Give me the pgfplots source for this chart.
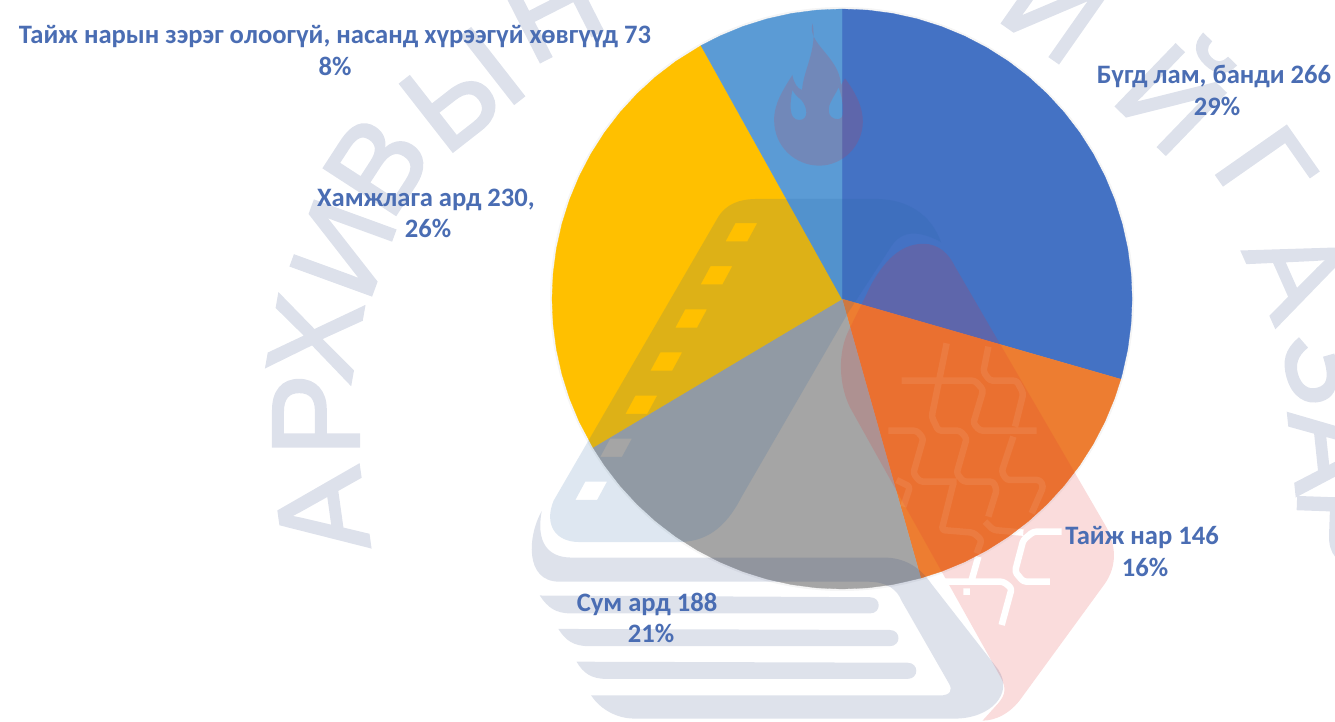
\documentclass[border=0pt]{standalone}
\usepackage{fontspec}
\setmainfont{Carlito}
\newfontfamily\wmfont[FakeBold=2.2]{Liberation Sans}
\usepackage{pgfplots}
\pgfplotsset{compat=1.18}
\definecolor{cBlue}{HTML}{4472C4}
\definecolor{cOrange}{HTML}{ED7D31}
\definecolor{cGray}{HTML}{A5A5A5}
\definecolor{cYellow}{HTML}{FFC000}
\definecolor{cSky}{HTML}{5B9BD5}
\definecolor{cText}{HTML}{4A6DB3}
\definecolor{wmNavy}{HTML}{1F3A7A}
\definecolor{wmPale}{HTML}{DDE1EB}
\definecolor{wmBlue}{HTML}{1F5FA0}
\definecolor{wmRed}{HTML}{E03030}
\newcommand{\wmL}[3]{\node[rotate=#3,text=wmPale,inner sep=0pt] at (#1) {\wmfont\fontsize{124}{124}\selectfont #2};}
\newcommand{\wmLetters}{%
  \begin{scope}[shift={(0pt,721pt)},x=1pt,y=-1pt]
    \wmL{322,512}{А}{98}
    \wmL{316,415}{Р}{90}
    \wmL{315,338}{Х}{80}
    \wmL{343,248}{И}{70}
    \wmL{377,165}{В}{57}
    \wmL{462,90}{Ы}{38}
    \wmL{552,8}{Н}{27}
    \wmL{1055,8}{И}{-35}
    \wmL{1180,90}{Й}{-44}
    \wmL{1265,170}{Г}{-55}
    \wmL{1298,272}{А}{-66}
    \wmL{1330,365}{З}{-74}
    \wmL{1335,450}{А}{-84}
    \wmL{1340,530}{Р}{-92}
  \end{scope}}
\newcommand{\wmAll}{%
  \begin{scope}[shift={(0pt,721pt)},x=1pt,y=-1pt]
    % flame (coordinates of the crop at 700,0)
    \begin{scope}[shift={(700,0)},x=0.405pt,y=-0.3333pt]
      \fill[wmRed,fill opacity=0.17,even odd rule]
        (278,70) .. controls (262,130) and (345,170) .. (348,255)
        .. controls (352,250) and (355,240) .. (358,235)
        .. controls (385,280) and (402,320) .. (402,365)
        .. controls (402,440) and (350,497) .. (295,497)
        .. controls (235,497) and (183,440) .. (183,360)
        .. controls (183,310) and (205,270) .. (228,225)
        .. controls (232,250) and (240,265) .. (252,270)
        .. controls (255,210) and (290,150) .. (278,70) -- cycle
        (228,270) .. controls (222,310) and (218,360) .. (245,360)
        .. controls (270,360) and (265,320) .. (250,300) .. controls (240,290) and (232,280) .. (228,270) -- cycle
        (342,262) .. controls (335,285) and (315,310) .. (318,335)
        .. controls (320,360) and (350,365) .. (352,345) .. controls (354,315) and (350,285) .. (342,262) -- cycle;
    \end{scope}
    % logo (coordinates of the crop at 520,180)
    \begin{scope}[shift={(520,180)},x=0.3953pt,y=-0.3448pt]
      % blue tile with its windows
      \fill[wmBlue,fill opacity=0.15,even odd rule]
        (500,110) .. controls (520,70) and (555,55) .. (600,55) -- (900,55)
        .. controls (980,55) and (1040,100) .. (1065,180)
        .. controls (1000,140) and (960,150) .. (935,200)
        -- (830,385) -- (560,920)
        .. controls (520,1010) and (470,1050) .. (400,1050) -- (150,1050)
        .. controls (90,1050) and (60,1000) .. (85,930) -- cycle
        (545,125) -- ++(55,0) -- ++(-25,53) -- ++(-55,0) -- cycle
        (482,250) -- ++(55,0) -- ++(-25,53) -- ++(-55,0) -- cycle
        (418,375) -- ++(55,0) -- ++(-25,53) -- ++(-55,0) -- cycle
        (355,500) -- ++(55,0) -- ++(-25,53) -- ++(-55,0) -- cycle
        (292,625) -- ++(55,0) -- ++(-25,53) -- ++(-55,0) -- cycle
        (228,750) -- ++(55,0) -- ++(-25,53) -- ++(-55,0) -- cycle
        (165,875) -- ++(55,0) -- ++(-25,53) -- ++(-55,0) -- cycle;
      % red tile
      \fill[wmRed,fill opacity=0.17]
        (1020,185) .. controls (960,185) and (920,240) .. (890,300)
        -- (830,440) .. controls (805,500) and (805,590) .. (835,660)
        -- (1215,1440) .. controls (1235,1480) and (1225,1500) .. (1200,1530)
        -- (1170,1568) .. controls (1200,1568) and (1240,1550) .. (1270,1500)
        -- (1480,1170) .. controls (1510,1120) and (1510,1060) .. (1480,1000)
        -- (1100,250) .. controls (1085,215) and (1060,185) .. (1020,185) -- cycle;
      % grey-blue band
      \fill[wmNavy,fill opacity=0.15]
        (55,960) .. controls (20,1030) and (10,1165) .. (100,1165) -- (880,1165)
        .. controls (930,1165) and (955,1190) .. (965,1220)
        -- (1085,1460) .. controls (1095,1480) and (1090,1495) .. (1060,1495)
        -- (180,1495) .. controls (200,1530) and (240,1562) .. (290,1562) -- (1100,1562)
        .. controls (1190,1562) and (1250,1490) .. (1210,1420)
        -- (1040,1170) .. controls (1010,1120) and (970,1095) .. (920,1095)
        -- (130,1095) .. controls (70,1095) and (40,1050) .. (55,960) -- cycle;
      \fill[wmNavy,fill opacity=0.15]
        (50,1205) -- (885,1210) .. controls (915,1210) and (915,1257) .. (885,1257)
        -- (130,1257) .. controls (90,1257) and (70,1240) .. (50,1205) -- cycle;
      \fill[wmNavy,fill opacity=0.15]
        (97,1302) -- (935,1305) .. controls (965,1305) and (965,1352) .. (935,1352)
        -- (175,1352) .. controls (135,1352) and (115,1335) .. (97,1302) -- cycle;
      \fill[wmNavy,fill opacity=0.15]
        (143,1397) -- (980,1400) .. controls (1010,1400) and (1010,1447) .. (980,1447)
        -- (220,1447) .. controls (180,1447) and (160,1430) .. (143,1397) -- cycle;
    \end{scope}
  \end{scope}}
\newcommand{\wmLines}[1]{%
  \begin{scope}[shift={(860pt,381pt)},x=0.3333pt,y=-0.3333pt]
    \draw[white,line width=6.5pt,line join=round,rounded corners=3pt,#1]
      (125,122) -- (345,122) -- (370,150) -- (340,250) -- (360,272) -- (530,272)
      (260,10) -- (215,230) -- (235,272) -- (300,272) -- (320,295) -- (290,400) -- (310,425) -- (400,425) -- (410,450) -- (385,530)
      (385,20) -- (370,95) -- (390,122) -- (470,122) -- (490,160) -- (465,260)
      (85,272) -- (170,272) -- (190,295) -- (160,400) -- (180,425) -- (290,425)
      (460,290) -- (425,395) -- (440,420) -- (540,420) -- (550,440) -- (515,520)
      (280,430) -- (245,570) -- (340,578) -- (365,600) -- (350,640)
      (110,420) -- (150,440) -- (130,500)
      (605,575) -- (520,575) -- (490,600) -- (465,695) -- (490,725) -- (570,725)
      (375,545) -- (400,570) -- (490,578)
      (355,650) -- (335,720)
      (245,725) -- (430,725) -- (455,745) -- (425,855)
      (320,745) -- (320,765);
  \end{scope}}
\newcommand{\lbl}[3]{\node[anchor=base,text=cText,inner sep=0pt] at (#1,#2) {\bfseries\fontsize{26.6}{26.6}\selectfont #3};}
\begin{document}
\begin{tikzpicture}
  \useasboundingbox (0,0) rectangle (1335pt,721pt);
  \begin{scope}
    \clip (0,0) rectangle (1335pt,721pt);
    \wmLetters
    \wmAll
    \wmLines{}
  \end{scope}
  \fill[black,opacity=0.04] (842pt,422pt) circle[radius=292pt];
  \begin{axis}[
    at={(0pt,0pt)},anchor=south west,
    scale only axis,width=1335pt,height=721pt,
    xmin=-842,xmax=493,ymin=-422,ymax=299,
    hide axis,no markers,
  ]
  % Бүгд лам, банди 266
  \addplot[data cs=polar,fill=cBlue,draw=cBlue,line width=0.3pt] coordinates {(0,0)
    (90,290)(85,290)(80,290)(75,290)(70,290)(65,290)(60,290)(55,290)(50,290)(45,290)(40,290)
    (35,290)(30,290)(25,290)(20,290)(15,290)(10,290)(5,290)(0,290)(-5,290)(-10,290)(-15,290)(-16.05,290)} -- cycle;
  % Тайж нар 146
  \addplot[data cs=polar,fill=cOrange,draw=cOrange,line width=0.3pt] coordinates {(0,0)
    (-16.05,290)(-20,290)(-25,290)(-30,290)(-35,290)(-40,290)(-45,290)(-50,290)(-55,290)(-60,290)(-65,290)(-70,290)(-74.25,290)} -- cycle;
  % Сум ард 188
  \addplot[data cs=polar,fill=cGray,draw=cGray,line width=0.3pt] coordinates {(0,0)
    (-74.25,290)(-80,290)(-85,290)(-90,290)(-95,290)(-100,290)(-105,290)(-110,290)(-115,290)(-120,290)(-125,290)(-130,290)(-135,290)(-140,290)(-145,290)(-149.2,290)} -- cycle;
  % Хамжлага ард 230
  \addplot[data cs=polar,fill=cYellow,draw=cYellow,line width=0.3pt] coordinates {(0,0)
    (-149.2,290)(-155,290)(-160,290)(-165,290)(-170,290)(-175,290)(-180,290)(-185,290)(-190,290)(-195,290)(-200,290)(-205,290)(-210,290)(-215,290)(-220,290)(-225,290)(-230,290)(-235,290)(-240.9,290)} -- cycle;
  % Тайж нарын зэрэг олоогүй, насанд хүрээгүй хөвгүүд 73
  \addplot[data cs=polar,fill=cSky,draw=cSky,line width=0.3pt] coordinates {(0,0)
    (-240.9,290)(-245,290)(-250,290)(-255,290)(-260,290)(-265,290)(-270,290)} -- cycle;
  \end{axis}
  \begin{scope}
    \clip (842pt,422pt) circle[radius=290pt];
    \wmAll
    \wmLines{opacity=0.08}
  \end{scope}
  \begin{scope}[shift={(0pt,721pt)},x=1pt,y=-1pt]
    \lbl{335}{44}{Тайж нарын зэрэг олоогүй, насанд хүрээгүй хөвгүүд 73}
    \lbl{335}{76}{8\%}
    \lbl{1214}{84}{Бүгд лам, банди 266}
    \lbl{1217}{116}{29\%}
    \lbl{426}{207}{Хамжлага ард 230,}
    \lbl{428}{238}{26\%}
    \lbl{1142}{544}{Тайж нар 146}
    \lbl{1145}{576}{16\%}
    \lbl{647}{611}{Сум ард 188}
    \lbl{651}{642}{21\%}
  \end{scope}
\end{tikzpicture}
\end{document}
